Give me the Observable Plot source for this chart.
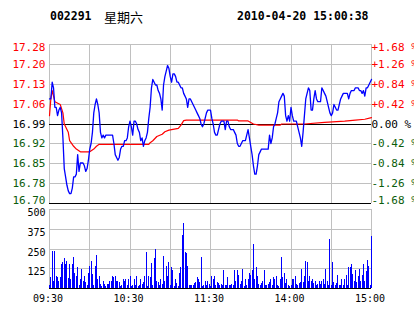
<!DOCTYPE html>
<html><head><meta charset="utf-8">
<script src="https://cdn.jsdelivr.net/npm/d3@7"></script>
<script src="https://cdn.jsdelivr.net/npm/@observablehq/plot@0.6"></script>
<style>
html,body{margin:0;padding:0;background:#fff;}
#wrap{position:relative;width:414px;height:314px;overflow:hidden;background:#fff;}
#wrap svg{position:absolute;left:0;top:0;}
.t{position:absolute;top:8px;line-height:17px;white-space:pre;color:#000;}
</style></head><body>
<div id="wrap">
  <div class="t" id="code" style="left:50px;font-family:'DejaVu Sans Mono';font-weight:bold;font-size:11.5px"></div>
  <div class="t" id="wday" style="left:104px;font-family:'Noto Sans CJK SC';font-size:13px"></div>
  <div class="t" id="stamp" style="left:237px;font-family:'DejaVu Sans Mono';font-weight:bold;font-size:11.5px"></div>
</div>
<script>
const stockCode = "002291";
const weekday = "星期六";
const timestamp = "2010-04-20 15:00:38";
const prevClose = 16.99;
const pctTicks = [1.68, 1.26, 0.84, 0.42, 0, -0.42, -0.84, -1.26, -1.68];
const priceLabels = ["17.28","17.20","17.13","17.06","16.99","16.92","16.85","16.78","16.70"];
const pctLabels = ["+1.68 %","+1.26 %","+0.84 %","+0.42 %","0.00 %","-0.42 %","-0.84 %","-1.26 %","-1.68 %"];
const volTicks = [500, 375, 250, 125];
const volTickLabels = ["500", "375", "250", "125"];
const timeTickMinutes = [0, 60, 120, 180, 240];
const timeLabels = ["09:30", "10:30", "11:30", "14:00", "15:00"];
const gridMinutes = [30, 60, 90, 120, 150, 180, 210];

const priceMinutes = [0,1,2,3,4,5,6,7,8,9,10,11,12,13,14,15,16,17,18,19,20,21,22,23,24,25,26,27,28,29,30,31,32,33,34,35,36,37,38,39,40,41,42,47,48,49,50,51,52,53,54,55,56,57,58,59,
60,61,62,63,64,65,66,67,68,69,70,71,72,73,74,75,76,77,78,79,80,81,82,83,84,85,86,87,88,89,90,91,92,93,94,95,96,97,98,99,100,101,102,103,104,105,106,107,108,109,110,111,112,
113,114,115,116,117,118,120,121,122,123,124,125,126,127,128,130,131,132,133,134,135,137,138,139,140,141,142,143,144,146,147,148,149,150,151,152,153,154,155,156,157,158,163,164,165,166,167,168,169,170,171,172,173,174,175,176,177,178,179,180,181,182,184,185,186,187,188,189,190,191,192,193,194,195,196,197,198,199,200,202,203,204,205,206,207,208,209,210,211,212,213,214,215,216,217,218,219,222,223,224,225,227,228,230,231,232,233,234,235,236,237,238,239,240];
const prices = [17.08,17.08,17.14,17.12,17.05,17.05,17.02,17.04,17.05,17.03,16.94,16.83,16.80,16.77,16.75,16.74,16.74,16.76,16.80,16.80,16.81,16.88,16.82,16.85,16.85,16.85,16.84,16.82,16.83,16.86,16.90,16.92,16.96,17.03,17.06,17.08,17.06,17.03,16.96,16.94,16.95,16.94,16.95,16.95,16.92,16.88,16.87,16.86,16.87,16.90,16.91,16.91,16.93,16.93,16.94,16.98,
17.00,16.98,16.95,17.00,17.00,16.99,16.97,16.96,16.93,16.94,16.91,16.93,16.94,16.96,17.01,17.05,17.12,17.15,17.14,17.13,17.13,17.11,17.10,17.08,17.04,17.13,17.16,17.18,17.20,17.19,17.16,17.14,17.17,17.17,17.16,17.14,17.14,17.13,17.12,17.12,17.10,17.09,17.08,17.05,17.08,17.08,17.07,17.06,17.05,17.04,17.03,17.02,17.01,
16.99,16.98,16.99,17.01,17.03,17.04,17.04,17.01,16.99,16.96,16.95,16.95,16.97,16.99,17.00,17.00,16.97,17.00,17.00,16.98,16.97,16.97,16.96,16.95,16.92,16.91,16.91,16.92,16.93,16.93,16.95,16.97,16.94,16.91,16.88,16.84,16.81,16.81,16.84,16.88,16.89,16.90,16.90,16.95,16.92,16.94,16.98,16.99,17.01,17.03,17.07,17.08,17.09,17.10,17.09,17.02,17.00,17.02,17.00,17.05,17.02,17.00,17.00,16.98,16.96,16.94,16.91,16.96,17.02,17.08,17.10,17.12,17.11,17.04,17.04,17.08,17.11,17.08,17.07,17.07,17.12,17.11,17.10,17.09,17.07,17.05,17.03,17.02,17.03,17.06,17.05,17.04,17.04,17.06,17.08,17.09,17.10,17.10,17.08,17.10,17.11,17.11,17.12,17.12,17.11,17.11,17.10,17.11,17.09,17.12,17.12,17.13,17.14,17.15];

const avgMinutes = [0,1,2,4,8,10,11,14,15,18,20,23,30,33,35,37,74,75,77,80,84,86,89,96,98,100,102,140,141,148,152,156,172,173,190,205,220,228,235,240];
const avgPrices = [17.02,17.08,17.11,17.07,17.06,17.03,16.99,16.96,16.93,16.91,16.90,16.89,16.89,16.90,16.91,16.917,16.917,16.923,16.93,16.945,16.953,16.962,16.968,16.974,16.986,17.002,17.004,17.004,17.001,17.001,16.99,16.986,16.986,16.99,16.99,16.996,17.0,17.004,17.007,17.013];

const volumes = [
22,69,233,47,237,75,69,47,69,155,
163,187,155,174,64,155,54,149,199,96,
75,136,22,54,123,47,79,39,22,96,
142,174,90,22,142,206,60,79,28,11,
47,28,11,28,28,43,43,73,69,73,
47,47,39,11,22,54,43,60,22,60,
79,11,22,60,22,79,11,22,54,28,
35,75,231,11,75,69,161,22,193,244,
43,35,22,60,28,201,47,142,79,163,
22,131,117,11,54,33,11,92,131,334,
414,227,222,142,16,16,16,22,33,37,
69,54,37,195,11,22,47,22,47,26,
12,75,60,75,22,39,33,22,26,18,
111,16,16,69,22,16,26,18,111,43,
117,85,28,47,123,11,54,22,60,96,
85,117,280,54,136,79,26,16,33,47,
111,16,16,26,39,54,22,69,54,79,
22,11,54,195,69,94,33,60,22,11,
22,54,60,79,28,22,33,39,121,39,
79,174,166,47,79,43,60,33,47,16,
28,47,28,47,60,28,123,47,16,313,
22,166,39,16,33,85,16,22,54,22,
54,85,22,131,131,149,90,43,111,39,
79,123,47,85,149,43,107,180,142,22,
326];

document.getElementById("code").textContent = stockCode;
document.getElementById("wday").textContent = weekday;
document.getElementById("stamp").textContent = timestamp;

const priceData = priceMinutes.map((m, i) => ({m, p: prices[i]}));
const avgData = avgMinutes.map((m, i) => ({m, p: avgPrices[i]}));
const lo = prevClose * (1 - 0.0168), hi = prevClose * (1 + 0.0168);
const tickPrice = i => prevClose * (1 + pctTicks[i] / 100);
const labelColor = i => pctTicks[i] > 0 ? "#ff0000" : pctTicks[i] < 0 ? "#0b5d0b" : "#000000";
const idx = d3.range(pctTicks.length);
const GRID = "#c0c0c0";
const mono = "DejaVu Sans Mono";

function sideLabels(ids, dy) {
  return [
    Plot.text(ids, {y: tickPrice, text: i => priceLabels[i], fill: labelColor, frameAnchor: "left", textAnchor: "end", dx: -4, dy, fontSize: 11, fontFamily: mono}),
    Plot.text(ids, {y: tickPrice, text: i => pctLabels[i], fill: labelColor, frameAnchor: "right", textAnchor: "start", dx: 0, dy, fontSize: 11, fontFamily: mono})
  ];
}

const volPlot = Plot.plot({
  width: 414, height: 314, marginLeft: 49, marginRight: 43, marginTop: 209, marginBottom: 26,
  x: {domain: [0, 240], axis: null}, y: {domain: [0, 500], axis: null},
  style: {background: "transparent", overflow: "visible"},
  marks: [
    Plot.ruleX(gridMinutes, {x: d => d, stroke: GRID, shapeRendering: "crispEdges"}),
    Plot.ruleY(volTicks, {y: d => d, stroke: GRID, shapeRendering: "crispEdges"}),
    Plot.ruleX([0, 240], {x: d => d, stroke: GRID, shapeRendering: "crispEdges"}),
    Plot.ruleX(volumes, {x: (d, i) => i, y1: 0, y2: d => d, stroke: "#0000ff", shapeRendering: "crispEdges"}),
    Plot.ruleY([0], {y: d => d, stroke: "#000", shapeRendering: "crispEdges"}),
    Plot.text(volTicks, {y: d => d, text: (d, i) => volTickLabels[i], frameAnchor: "left", textAnchor: "end", dx: -4, dy: 3.5, fontSize: 10, fontFamily: mono, fill: "#000"}),
    Plot.text(timeTickMinutes, {x: d => d, text: (d, i) => timeLabels[i], frameAnchor: "bottom", lineAnchor: "middle", dx: -1.5, dy: 10, fontSize: 10, fontFamily: mono, fill: "#000"})
  ]
});

const pricePlot = Plot.plot({
  width: 414, height: 206, marginLeft: 49, marginRight: 43, marginTop: 44, marginBottom: 3,
  x: {domain: [0, 240], axis: null}, y: {domain: [lo, hi], axis: null},
  color: {type: "identity"},
  style: {background: "transparent", overflow: "visible"},
  marks: [
    Plot.ruleX(gridMinutes, {x: d => d, stroke: GRID, shapeRendering: "crispEdges"}),
    Plot.ruleY(idx.filter(i => pctTicks[i] !== 0 && pctTicks[i] !== -1.68), {y: tickPrice, stroke: GRID, shapeRendering: "crispEdges"}),
    Plot.ruleX([0, 240], {x: d => d, stroke: GRID, shapeRendering: "crispEdges"}),
    Plot.ruleY(idx.filter(i => pctTicks[i] === 0 || pctTicks[i] === -1.68), {y: tickPrice, stroke: "#000", shapeRendering: "crispEdges"}),
    Plot.line(avgData, {x: "m", y: "p", stroke: "#ff0000", strokeWidth: 1.2}),
    Plot.line(priceData, {x: "m", y: "p", stroke: "#0000ff", strokeWidth: 1.3}),
    ...sideLabels([0], 2.5),
    ...sideLabels(idx.slice(1, 8), 0),
    ...sideLabels([8], -3)
  ]
});

const wrap = document.getElementById("wrap");
wrap.appendChild(volPlot);
wrap.appendChild(pricePlot);
</script>
</body></html>
